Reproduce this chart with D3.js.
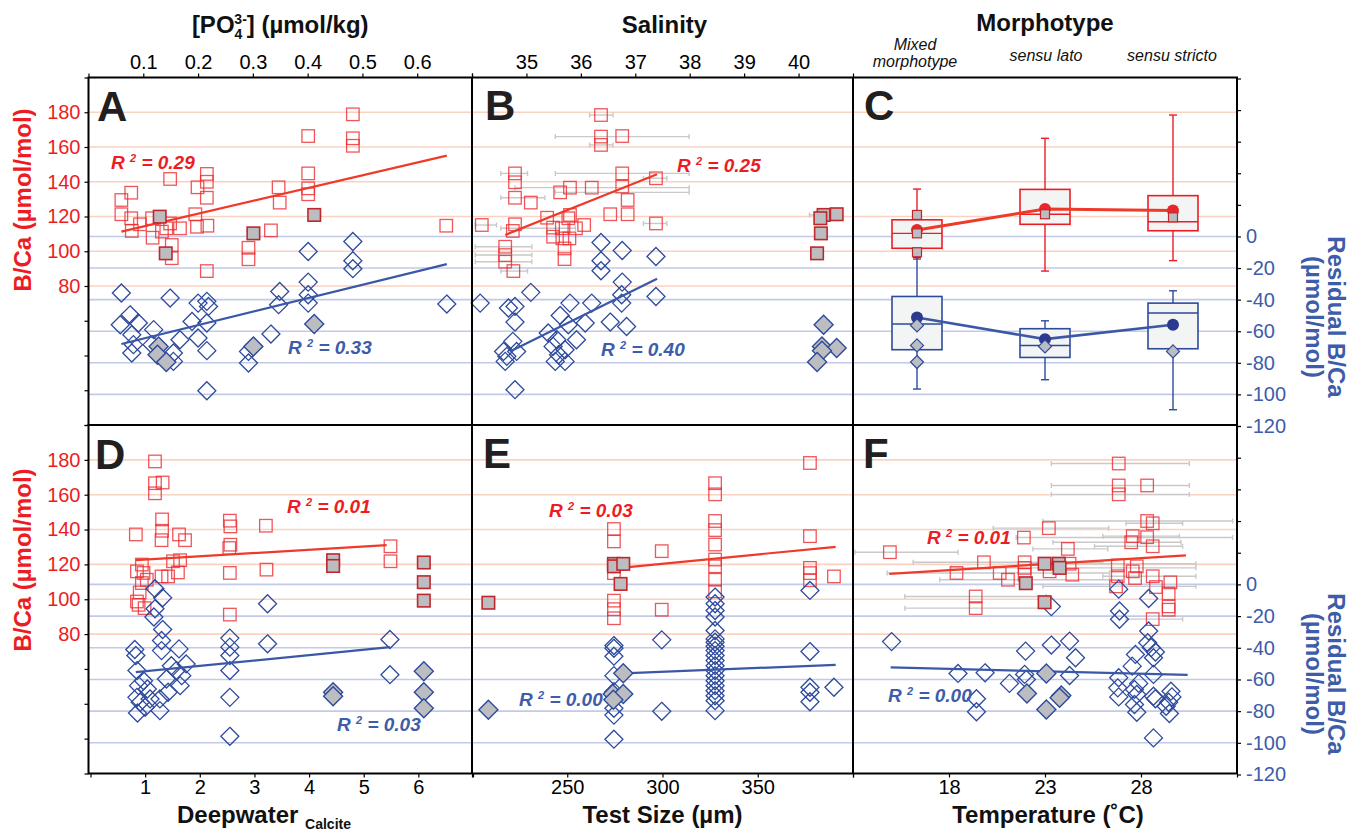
<!DOCTYPE html>
<html><head><meta charset="utf-8">
<script src="https://cdn.jsdelivr.net/npm/d3@7"></script>
<style>body{margin:0;background:#fff}svg{display:block}</style>
</head><body><svg id="c" width="1349" height="836"></svg>
<script>
// ---------------- DATA ----------------
// Panel A : [PO4 3-] (µmol/kg) vs B/Ca and residual B/Ca
const A_red = [[0.4825,178.8],[0.401,166.3],[0.4825,165],[0.4825,160.7],[0.149,141.6],[0.216,144.5],[0.216,140],[0.199,136.8],[0.216,130.8],[0.078,133.7],[0.06,129.5],[0.06,121.3],[0.078,119],[0.094,115.5],[0.079,111.7],[0.116,119],[0.117,107.8],[0.134,111.3],[0.142,113.2],[0.152,103.6],[0.167,113.2],[0.149,116],[0.195,121.3],[0.198,114.1],[0.217,114.7],[0.152,96],[0.216,88.6],[0.292,102],[0.292,95.4],[0.333,112],[0.347,136.8],[0.349,128],[0.401,144.8],[0.401,136.2],[0.401,132.8],[0.653,114.7]];
const A_redGrey = [[0.13,119.9],[0.141,98.8],[0.301,110.3],[0.412,120.9]];
const A_blue = [[0.06,-35.8],[0.149,-39],[0.076,-49.6],[0.058,-55.9],[0.091,-54.8],[0.079,-62.2],[0.119,-59],[0.082,-68.5],[0.079,-73.8],[0.116,-68.5],[0.167,-65.4],[0.155,-73.8],[0.155,-79.1],[0.189,-53.8],[0.2,-42.2],[0.216,-41.1],[0.219,-44.3],[0.216,-54.8],[0.2,-64.3],[0.216,-72.3],[0.216,-97.7],[0.292,-72.8],[0.292,-80.1],[0.333,-61.8],[0.349,-34.8],[0.347,-43.2],[0.401,-9.5],[0.401,-28.9],[0.401,-36.9],[0.401,-42.2],[0.4825,-3.2],[0.4825,-15.4],[0.4825,-20.4],[0.654,-42.8]];
const A_blueGrey = [[0.128,-69.6],[0.126,-74.9],[0.142,-79.5],[0.301,-69.6],[0.412,-55.4]];
const A_fitRed = [[0.06,111.3],[0.654,155]];
const A_fitBlue = [[0.06,-68.1],[0.654,-17.5]];
const A_r2 = ["0.29","0.33"];

// Panel B : Salinity  ([x, B/Ca, errLo, errHi])
const B_red = [[36.37,178.4,36.16,36.59],[36.37,166,35.53,37.99],[36.76,166.3],[36.37,161.2,36.16,36.59],[36.76,144.8,35.53,37.99],[34.79,144.8,34.53,35.02],[34.79,139.7],[37.38,142,37.15,37.58],[35.8,136.6],[35.62,133.9,35.53,37.99],[36.2,136.6,34.79,37.99],[36.76,137.2],[34.79,130.8,34.53,35.34],[35.08,128],[36.86,129.5],[35.38,119.3],[35.8,120.9],[36.54,121.3],[36.86,121.3],[34.18,115.1,34.06,34.45],[34.79,115.5],[34.75,111.7],[35.49,113.6],[35.65,113.2,34.53,35.9],[35.91,113.2],[36.06,115.1],[35.77,119],[35.49,108.4],[35.66,107.4],[35.79,107.4],[35.7,101.6],[35.7,95.5],[34.61,102.6,34.06,35.1],[34.61,97.8,34.06,35.1],[34.61,94,34.06,35.1],[34.76,88.6,34.53,35.02],[37.38,116,37.15,37.58]];
const B_redGrey = [[40.46,120.9,40.2,40.6],[40.7,121.3],[40.4,119],[40.41,110.3],[40.34,98.8]];
const B_blue = [[36.37,-3.8],[36.76,-8.9],[37.38,-12.7],[36.37,-15.4],[36.37,-21.7],[36.76,-28.9],[35.08,-35.4],[34.15,-42.2],[37.38,-38],[36.75,-36.9],[36.75,-42.2],[35.8,-42.2],[36.2,-42.2],[34.67,-45.3],[34.79,-44.3],[34.79,-54.2],[35.62,-50],[36.08,-54.8],[36.54,-54.2],[36.84,-57],[35.77,-55.9],[35.4,-61.1],[35.92,-65.4],[35.56,-65.4],[34.75,-66.4],[35.49,-69.6],[35.71,-71.7],[34.82,-72.8],[34.58,-72.8],[34.64,-75.9],[35.59,-74.9],[34.61,-79.1],[35.53,-79.1],[35.71,-79.1],[34.79,-97]];
const B_blueGrey = [[40.46,-55.9],[40.43,-69.6],[40.7,-70.6],[40.43,-72.3],[40.34,-79.5]];
const B_fitRed = [[34.61,109.4],[37.4,144.3]];
const B_fitBlue = [[34.7,-72.8],[37.4,-26.8]];
const B_r2 = ["0.25","0.40"];

// Panel C : Morphotype box plots  [whiskerLow, q1, median, q3, whiskerHigh, mean]
const morphCats = ["Mixed morphotype","sensu lato","sensu stricto"];
const C_redBox = [[95.5,101.7,110.3,118.1,135.8,112.2],[88.6,115.5,121.3,135.6,165,124.3],[94.6,111.8,117,132,178.4,123.4]];
const C_blueBox = [[-96.6,-71.7,-55.4,-38,-13.3,-51.3],[-90.7,-76.6,-69,-58.4,-53.4,-65],[-109.7,-71.1,-48.5,-42.2,-34.4,-55.9]];
const C_redGrey = [[0,120.9],[0,110.3],[0,99.4],[1,121.3],[2,119.5]];
const C_blueGrey = [[0,-56.3],[0,-69],[0,-79.5],[1,-69.6],[2,-72.8]];

// Panel D : Deepwater Calcite saturation
const D_red = [[1.18,179.1],[1.18,166.6],[1.32,167],[1.18,160.8],[1.31,145.8],[0.83,137.2],[1.31,139.3],[1.30,133.9],[1.62,137.2],[1.73,133.9],[2.55,145.1],[2.56,141.8],[2.56,131.3],[2.54,129.4],[3.21,142.2],[5.49,130.4],[5.49,121.8],[1.64,122.4],[1.51,121.8],[1.60,115.4],[0.94,119.9],[0.85,116],[0.97,115.1],[1.30,113.1],[1.42,113.1],[1.03,111.2],[0.94,109.3],[0.90,103.9],[0.88,96.8],[0.99,94.9],[0.85,98.7],[2.55,115.1],[3.22,117],[2.55,91.2]];
const D_redGrey = [[4.44,122.4],[4.44,119.1],[6.10,121.1],[6.10,109.8],[6.10,99.2]];
const D_blue = [[1.18,-2.7],[1.32,-8.4],[1.18,-15.4],[1.16,-20.6],[1.32,-28.5],[3.24,-12.2],[2.55,-33.9],[3.24,-37.5],[2.55,-39.6],[2.55,-44.9],[2.55,-54.4],[2.55,-71.3],[2.55,-95.9],[5.48,-34.8],[5.48,-57],[0.81,-41.1],[0.83,-44.9],[1.30,-35.4],[1.30,-41.8],[1.62,-40.7],[1.75,-50.2],[1.57,-54.4],[0.85,-54.4],[1.48,-51.3],[1.67,-57.6],[1.39,-59.7],[0.97,-60.8],[0.88,-63.9],[1.04,-66],[1.64,-63.9],[1.42,-68.1],[0.85,-71.3],[1.27,-72.3],[0.91,-74.4],[1.00,-77.6],[0.86,-81.2],[1.27,-79.7],[1.09,-72.3]];
const D_blueGrey = [[4.44,-68.1],[4.44,-70.6],[6.10,-54.8],[6.10,-68.1],[6.10,-78.2]];
const D_fitRed = [[0.83,122.4],[5.42,131.1]];
const D_fitBlue = [[0.83,-55.4],[5.48,-39.6]];
const D_r2 = ["0.01","0.03"];

// Panel E : Test size (µm)
const E_red = [[377.4,178.2],[327.6,166.6],[327.6,160.2],[327.6,144.9],[327.6,139.7],[327.6,131.4],[327.6,122.8],[327.6,118.9],[327.6,111.2],[327.6,104.5],[274.5,140.3],[274.5,133.2],[274.5,115],[274.5,99.2],[274.5,94.3],[274.5,89.1],[299.6,127.6],[299.6,94],[377.4,136.2],[377.4,118],[377.4,115],[377.4,110.9],[390,113.1]];
const E_redGrey = [[208.6,98],[274.5,120.3],[274.5,118.9],[279.4,120.3],[278,108.8]];
const E_blue = [[327.6,-8],[327.6,-12.2],[327.6,-16.5],[327.6,-20.6],[327.6,-29.1],[327.6,-34.4],[327.6,-36.5],[327.6,-39],[327.6,-41.8],[327.6,-44.9],[327.6,-48.1],[327.6,-51.3],[327.6,-54.4],[327.6,-57.6],[327.6,-60.8],[327.6,-63.9],[327.6,-67.1],[327.6,-70.3],[327.6,-73.4],[327.6,-79.7],[274.5,-38.6],[274.5,-40.3],[274.5,-45.3],[274.5,-57.6],[274.5,-67.7],[274.5,-78.2],[274.5,-82.5],[274.5,-97.7],[299.6,-35],[299.6,-80.1],[377.4,-3.8],[377.4,-42.4],[377.4,-64.9],[377.4,-68.1],[377.4,-74.1],[390,-64.9]];
const E_blueGrey = [[208.6,-79.1],[279.4,-56.1],[273.9,-69.2],[279.4,-69.2],[274.2,-72.8]];
const E_fitRed = [[279.4,118.2],[390.9,130.1]];
const E_fitBlue = [[279.4,-56.1],[390.9,-50.8]];
const E_r2 = ["0.03","0.00"];

// Panel F : Temperature (˚C)  ([x, B/Ca, errLo, errHi])
const F_red = [[26.84,177.9,23.33,30.52],[26.84,165.3,23.33,30.52],[28.32,165.3],[26.84,160.2,23.33,30.52],[23.2,140.8,20.3,26.32],[21.9,135.4,21.5,32.77],[28.32,144.9,22.89,32.77],[28.61,143.6,27.22,30.17],[27.57,136.2,26.01,30],[28.32,135.6],[27.49,132.7,23.41,30.08],[28.61,130.4,25.58,30.17],[24.19,128.9,22.37,26.27],[14.92,127,13.1,18.47],[19.82,121.2,16.13,26.01],[21.94,121.2],[21.94,118,18.13,30.86],[21.94,114.1],[20.64,115.1,14.78,26.36],[21.07,111.2,17.52,26.36],[23.24,116],[24.28,120.4,22.2,30.86],[24.42,114.1],[26.79,119.4],[26.79,113.2,26.01,30.86],[27.78,118.9],[27.57,116],[27.69,112.2],[28.61,113.2],[26.7,107.4,22.89,30.86],[28.78,107],[29.53,109.7],[29.44,103.2],[29.44,95.9],[29.44,94],[28.61,88.6,27.22,30.17],[19.39,101.6,15.7,23.07],[19.39,94.9,15.7,23.07],[18.39,115.1]];
const F_redGrey = [[22.98,120.4],[23.72,120.4],[23.76,118],[22,109.2],[22.98,98.3]];
const F_blue = [[15.01,-36.1],[26.84,-3],[28.4,-8.9],[23.33,-14],[26.88,-16.8],[26.88,-22],[28.4,-29.4],[28.35,-36.8],[28.53,-39.9],[28.75,-42.7],[28.65,-46.3],[27.71,-44.2],[27.54,-51.6],[28.65,-56.8],[26.84,-58.9],[27.88,-62.5],[26.79,-65.3],[27.66,-66.3],[27.78,-69.5],[26.84,-71],[28.65,-70.6],[28.75,-72.2],[29.56,-67.4],[29.61,-71],[29.44,-74.4],[29.31,-76.9],[29.48,-81.5],[27.66,-75.8],[27.78,-80.7],[28.65,-96.9],[21.99,-42.1],[23.33,-38.3],[24.28,-35.8],[24.59,-46.3],[24.28,-57.5],[21.94,-56.8],[22.03,-60],[21.15,-62.5],[18.47,-56.2],[19.88,-55.8],[19.43,-72.2],[19.43,-80.4]];
const F_blueGrey = [[23.07,-56.2],[22.06,-68.9],[23.85,-70.1],[23.76,-71.6],[23.07,-79]];
const F_fitRed = [[14.89,114.6],[30.34,125.2]];
const F_fitBlue = [[14.96,-52.4],[30.43,-57.1]];
const F_r2 = ["0.01","0.00"];

// Tick values
const bcaTicks = [0,20,40,60,80,100,120,140,160,180,200];
const resTicks = [-120,-100,-80,-60,-40,-20,0,20,40,60,80,100];
const po4Ticks = [0,0.1,0.2,0.3,0.4,0.5,0.6,0.7];
const salTicks = [34,35,36,37,38,39,40,41];
const deepTicks = [0,1,2,3,4,5,6,7];
const sizeTicks = [200,250,300,350,400];
const tempTicks = [13,18,23,28,33];

// ---------------- STYLE / LAYOUT ----------------
const FONT = '"Liberation Sans", Arial, Helvetica, sans-serif';
const COL = {red:"#ed1c24", redMk:"#ec2a30", redLine:"#ef3a2a", blue:"#2d4a9c", blueLine:"#3b58a7", blueTxt:"#3d5ca9",
  gridR:"#fbd2c1", gridB:"#c3cae7", grey:"#bcbdc0", ink:"#231f20", err:"#c9c9c9", boxFill:"#f3f4f4"};
const X = [88.5, 472, 853, 1237];
const ROWS = [{y0:77.5, y1:425}, {y0:425, y1:773.5}];

const svg = d3.select("#c").attr("font-family", FONT);

const bcaS = ROWS.map(r => d3.scaleLinear([0,200],[r.y1, r.y0]));
const resS = ROWS.map(r => d3.scaleLinear([-120,100],[r.y1+1, r.y0+1]));
const xPO4 = d3.scaleLinear([0,0.7],[X[0],X[1]]);
const xSal = d3.scaleLinear([34,41],[X[1],X[2]]);
const xMorph = d3.scalePoint(morphCats,[X[2],X[3]]).padding(0.5);
const xDeep = d3.scaleLinear([0,7],[90.5,473]);
const xSize = d3.scaleLinear([200,400],[X[1],X[2]]);
const xTemp = d3.scaleLinear([13,33],[X[2],X[3]]);

// gridlines
ROWS.forEach((r,i) => {
  const g = svg.append("g");
  g.selectAll(null).data([80,100,120,140,160,180]).join("line")
    .attr("x1",X[0]).attr("x2",X[3]).attr("y1",d=>bcaS[i](d)).attr("y2",d=>bcaS[i](d))
    .attr("stroke",COL.gridR).attr("stroke-width",1.6);
  g.selectAll(null).data([0,-20,-40,-60,-80,-100]).join("line")
    .attr("x1",X[0]).attr("x2",X[3]).attr("y1",d=>resS[i](d)).attr("y2",d=>resS[i](d))
    .attr("stroke",COL.gridB).attr("stroke-width",1.6);
});

function diamondPath(r){ return `M0,${-r}L${r},0L0,${r}L${-r},0Z`; }

function drawScatter(o){
  const ys = bcaS[o.row], yr = resS[o.row], xs = o.x;
  const g = svg.append("g");
  // error bars
  const eb = o.red.filter(d => d.length > 2).concat((o.redGrey||[]).filter(d=>d.length>2));
  const ge = g.append("g").attr("stroke",COL.err).attr("stroke-width",1.4).attr("fill","none");
  eb.forEach(d => {
    const y = ys(d[1]);
    ge.append("line").attr("x1",xs(d[2])).attr("x2",xs(d[3])).attr("y1",y).attr("y2",y);
    ge.append("line").attr("x1",xs(d[2])).attr("x2",xs(d[2])).attr("y1",y-2.5).attr("y2",y+2.5);
    ge.append("line").attr("x1",xs(d[3])).attr("x2",xs(d[3])).attr("y1",y-2.5).attr("y2",y+2.5);
  });
  const S = 12.5;
  g.selectAll(null).data(o.red).join("rect")
    .attr("x",d=>xs(d[0])-S/2).attr("y",d=>ys(d[1])-S/2).attr("width",S).attr("height",S)
    .attr("fill","none").attr("stroke",COL.redMk).attr("stroke-width",1.3).attr("stroke-opacity",0.8);
  g.selectAll(null).data(o.blue).join("path")
    .attr("d",diamondPath(9)).attr("transform",d=>`translate(${xs(d[0])},${yr(d[1])})`)
    .attr("fill","none").attr("stroke",COL.blue).attr("stroke-width",1.3);
  // fits
  const lr = d3.line().x(d=>xs(d[0])).y(d=>ys(d[1]));
  const lb = d3.line().x(d=>xs(d[0])).y(d=>yr(d[1]));
  g.append("path").attr("d",lr(o.fitRed)).attr("stroke",COL.redLine).attr("stroke-width",2.2).attr("fill","none");
  g.append("path").attr("d",lb(o.fitBlue)).attr("stroke",COL.blueLine).attr("stroke-width",2.2).attr("fill","none");
  // grey (filled) markers
  g.selectAll(null).data(o.redGrey).join("rect")
    .attr("x",d=>xs(d[0])-S/2).attr("y",d=>ys(d[1])-S/2).attr("width",S).attr("height",S)
    .attr("fill",COL.grey).attr("stroke","#c0272d").attr("stroke-width",1.6);
  g.selectAll(null).data(o.blueGrey).join("path")
    .attr("d",diamondPath(9.5)).attr("transform",d=>`translate(${xs(d[0])},${yr(d[1])})`)
    .attr("fill",COL.grey).attr("stroke",COL.blue).attr("stroke-width",1.4);
  // R² labels
  r2Label(o.r2pos[0][0], o.r2pos[0][1], o.r2[0], COL.red);
  r2Label(o.r2pos[1][0], o.r2pos[1][1], o.r2[1], COL.blueTxt);
}

function r2Label(x, y, val, color){
  const t = svg.append("text").attr("x",x).attr("y",y).attr("fill",color)
    .attr("font-weight","bold").attr("font-style","italic").attr("font-size",19);
  t.append("tspan").text("R ");
  t.append("tspan").attr("dy",-7).attr("font-size",11).text("2");
  t.append("tspan").attr("dy",7).text(" = " + val);
}

drawScatter({row:0, x:xPO4, red:A_red, redGrey:A_redGrey, blue:A_blue, blueGrey:A_blueGrey, fitRed:A_fitRed, fitBlue:A_fitBlue, r2:A_r2, r2pos:[[111,169],[288,354]]});
drawScatter({row:0, x:xSal, red:B_red, redGrey:B_redGrey, blue:B_blue, blueGrey:B_blueGrey, fitRed:B_fitRed, fitBlue:B_fitBlue, r2:B_r2, r2pos:[[677,172],[601,356]]});
drawScatter({row:1, x:xDeep, red:D_red, redGrey:D_redGrey, blue:D_blue, blueGrey:D_blueGrey, fitRed:D_fitRed, fitBlue:D_fitBlue, r2:D_r2, r2pos:[[287,513],[337,731]]});
drawScatter({row:1, x:xSize, red:E_red, redGrey:E_redGrey, blue:E_blue, blueGrey:E_blueGrey, fitRed:E_fitRed, fitBlue:E_fitBlue, r2:E_r2, r2pos:[[549,517],[519,706]]});
drawScatter({row:1, x:xTemp, red:F_red, redGrey:F_redGrey, blue:F_blue, blueGrey:F_blueGrey, fitRed:F_fitRed, fitBlue:F_fitBlue, r2:F_r2, r2pos:[[927,544],[888,702]]});

// Panel C boxplots
(function(){
  const g = svg.append("g");
  const bw = 50, cap = 4;
  function boxes(stats, ys, color){
    stats.forEach((s,i) => {
      const cx = xMorph(morphCats[i]);
      g.append("line").attr("x1",cx).attr("x2",cx).attr("y1",ys(s[0])).attr("y2",ys(s[4])).attr("stroke",color).attr("stroke-width",1.4);
      [s[0],s[4]].forEach(v => g.append("line").attr("x1",cx-cap).attr("x2",cx+cap).attr("y1",ys(v)).attr("y2",ys(v)).attr("stroke",color).attr("stroke-width",1.4));
      g.append("rect").attr("x",cx-bw/2).attr("width",bw).attr("y",ys(s[3])).attr("height",ys(s[1])-ys(s[3]))
        .attr("fill",COL.boxFill).attr("stroke",color).attr("stroke-width",1.6);
      g.append("line").attr("x1",cx-bw/2).attr("x2",cx+bw/2).attr("y1",ys(s[2])).attr("y2",ys(s[2])).attr("stroke",color).attr("stroke-width",1.4);
    });
  }
  boxes(C_redBox, bcaS[0], COL.red);
  boxes(C_blueBox, resS[0], COL.blue);
  const lr = d3.line().x((d,i)=>xMorph(morphCats[i])).y(d=>bcaS[0](d[5]));
  const lb = d3.line().x((d,i)=>xMorph(morphCats[i])).y(d=>resS[0](d[5]));
  g.append("path").attr("d",lr(C_redBox)).attr("stroke",COL.redLine).attr("stroke-width",3).attr("fill","none");
  g.append("path").attr("d",lb(C_blueBox)).attr("stroke",COL.blueLine).attr("stroke-width",2.6).attr("fill","none");
  g.selectAll(null).data(C_redBox).join("circle").attr("cx",(d,i)=>xMorph(morphCats[i])).attr("cy",d=>bcaS[0](d[5])).attr("r",6).attr("fill","#e8262c");
  g.selectAll(null).data(C_blueBox).join("circle").attr("cx",(d,i)=>xMorph(morphCats[i])).attr("cy",d=>resS[0](d[5])).attr("r",6).attr("fill","#2b3990");
  const s=9;
  g.selectAll(null).data(C_redGrey).join("rect").attr("x",d=>xMorph(morphCats[d[0]])-s/2).attr("y",d=>bcaS[0](d[1])-s/2)
    .attr("width",s).attr("height",s).attr("fill",COL.grey).attr("stroke","#c0272d").attr("stroke-width",1.2);
  g.selectAll(null).data(C_blueGrey).join("path").attr("d",diamondPath(6.5))
    .attr("transform",d=>`translate(${xMorph(morphCats[d[0]])},${resS[0](d[1])})`)
    .attr("fill",COL.grey).attr("stroke",COL.blue).attr("stroke-width",1.2);
})();

// ---------------- AXES ----------------
function styleAxis(g, color){
  g.attr("font-family",FONT).attr("font-size",20);
  g.select(".domain").remove();
  g.selectAll(".tick line").attr("stroke","#000").attr("stroke-width",1.2);
  g.selectAll(".tick text").attr("fill",color);
}
ROWS.forEach((r,i) => {
  svg.append("g").attr("transform",`translate(${X[0]},0)`)
    .call(d3.axisLeft(bcaS[i]).tickValues(bcaTicks).tickFormat(d => (d>=80 && d<=180) ? d : "").tickSize(4).tickPadding(4))
    .call(styleAxis, COL.red);
  svg.append("g").attr("transform",`translate(${X[3]},0)`)
    .call(d3.axisRight(resS[i]).tickValues(resTicks).tickFormat(d => d<=0 ? String(d) : "").tickSize(4).tickPadding(5))
    .call(styleAxis, COL.blueTxt);
});
svg.append("g").attr("transform",`translate(0,${ROWS[0].y0})`)
  .call(d3.axisTop(xPO4).tickValues(po4Ticks).tickFormat(d => (d>0.05 && d<0.65) ? d3.format(".1f")(d) : "").tickSize(4).tickPadding(5))
  .call(styleAxis, "#000");
svg.append("g").attr("transform",`translate(0,${ROWS[0].y0})`)
  .call(d3.axisTop(xSal).tickValues(salTicks).tickFormat(d => (d>34 && d<41) ? d : "").tickSize(4).tickPadding(5))
  .call(styleAxis, "#000");
svg.append("g").attr("transform",`translate(0,${ROWS[1].y1})`)
  .call(d3.axisBottom(xDeep).tickValues(deepTicks).tickFormat(d => (d>0 && d<7) ? d : "").tickSize(4).tickPadding(2))
  .call(styleAxis, "#000");
svg.append("g").attr("transform",`translate(0,${ROWS[1].y1})`)
  .call(d3.axisBottom(xSize).tickValues(sizeTicks).tickFormat(d => (d>200 && d<400) ? d : "").tickSize(4).tickPadding(2))
  .call(styleAxis, "#000");
svg.append("g").attr("transform",`translate(0,${ROWS[1].y1})`)
  .call(d3.axisBottom(xTemp).tickValues(tempTicks).tickFormat(d => (d>13 && d<33) ? d : "").tickSize(4).tickPadding(2))
  .call(styleAxis, "#000");

// morphotype category labels
const mg = svg.append("g").attr("font-style","italic").attr("font-size",16).attr("fill","#111").attr("text-anchor","middle");
mg.append("text").attr("x",xMorph(morphCats[0])-2).attr("y",50).text("Mixed");
mg.append("text").attr("x",xMorph(morphCats[0])-2).attr("y",67).text("morphotype");
mg.append("text").attr("x",xMorph(morphCats[1])+1).attr("y",61).text("sensu lato");
mg.append("text").attr("x",xMorph(morphCats[2])-1).attr("y",61).text("sensu stricto");

// frames
const fr = svg.append("g").attr("stroke","#000").attr("stroke-width",2).attr("fill","none");
ROWS.forEach(r => {
  fr.append("rect").attr("x",X[0]).attr("y",r.y0).attr("width",X[3]-X[0]).attr("height",r.y1-r.y0);
  [X[1],X[2]].forEach(x => fr.append("line").attr("x1",x).attr("x2",x).attr("y1",r.y0).attr("y2",r.y1));
});

// panel letters
const letters = [["A",97,121],["B",485,120],["C",864,120],["D",95,469],["E",483,468],["F",863,468]];
svg.append("g").attr("font-weight","bold").attr("font-size",42).attr("fill",COL.ink)
  .selectAll(null).data(letters).join("text").attr("x",d=>d[1]).attr("y",d=>d[2]).text(d=>d[0]);

// axis titles
const tg = svg.append("g").attr("font-weight","bold").attr("font-size",24).attr("fill","#111");
const po4 = tg.append("text").attr("x",(X[0]+X[1])/2).attr("y",33).attr("text-anchor","middle");
po4.append("tspan").text("[PO");
po4.append("tspan").attr("font-size",14).attr("dy",6).text("4");
po4.append("tspan").attr("font-size",14).attr("dy",-15).attr("dx",-8).text("3-");
po4.append("tspan").attr("dy",9).text("] (µmol/kg)");
tg.append("text").attr("x",(X[1]+X[2])/2+2).attr("y",33).attr("text-anchor","middle").text("Salinity");
tg.append("text").attr("x",(X[2]+X[3])/2).attr("y",31).attr("text-anchor","middle").text("Morphotype");
const dw = tg.append("text").attr("x",177).attr("y",823);
dw.append("tspan").text("Deepwater ");
dw.append("tspan").attr("font-size",14).attr("dy",6).text("Calcite");
tg.append("text").attr("x",(X[1]+X[2])/2).attr("y",823).attr("text-anchor","middle").text("Test Size (µm)");
tg.append("text").attr("x",(X[2]+X[3])/2+3).attr("y",823).attr("text-anchor","middle").text("Temperature (˚C)");

// vertical titles
const vg = svg.append("g").attr("font-weight","bold").attr("font-size",24).attr("text-anchor","middle");
[200, 560].forEach(cy => {
  vg.append("text").attr("transform",`translate(31,${cy}) rotate(-90)`).attr("fill",COL.red).text("B/Ca (µmol/mol)");
});
[[317],[674]].forEach(([cy]) => {
  vg.append("text").attr("transform",`translate(1328,${cy}) rotate(90)`).attr("fill",COL.blueTxt).text("Residual B/Ca");
  vg.append("text").attr("transform",`translate(1306,${cy}) rotate(90)`).attr("fill",COL.blueTxt).text("(µmol/mol)");
});
</script></body></html>
